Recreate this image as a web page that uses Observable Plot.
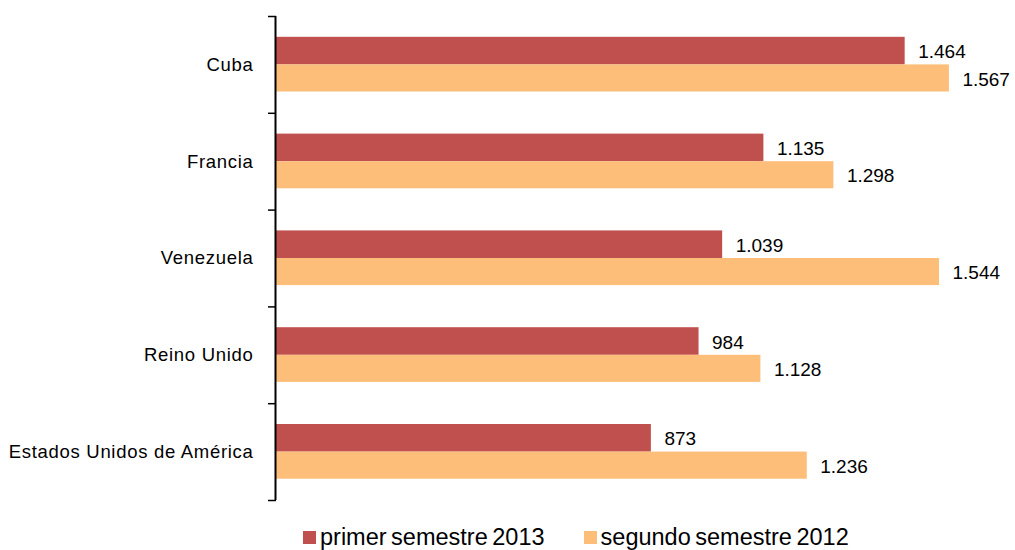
<!DOCTYPE html>
<html>
<head>
<meta charset="utf-8">
<script src="https://cdn.jsdelivr.net/npm/d3@7"></script>
<script src="https://cdn.jsdelivr.net/npm/@observablehq/plot@0.6"></script>
<style>
  body { margin: 0; background: #fff; font-family: "Liberation Sans", Arial, sans-serif; overflow: hidden; }
  #wrap { position: relative; width: 1015px; height: 550px; }
  #legend { position: absolute; top: 526px; left: 303px; font-size: 23.5px; line-height: 22px; color: #000; white-space: nowrap; display: flex; align-items: center; word-spacing: -2px; }
  #legend .item { display: flex; align-items: center; }
  #legend .sw { display: inline-block; width: 13px; height: 13px; margin-right: 4px; }
</style>
</head>
<body>
<div id="wrap"><div id="chart"></div><div id="legend"></div></div>
<script>
const categories = ["Cuba", "Francia", "Venezuela", "Reino Unido", "Estados Unidos de América"];
const seriesNames = ["primer semestre 2013", "segundo semestre 2012"];
const values2013 = [1464, 1135, 1039, 984, 873];
const values2012 = [1567, 1298, 1544, 1128, 1236];
const colors = ["#C0504D", "#FCBE78"];

const fmt = d3.formatLocale({decimal: ",", thousands: ".", grouping: [3], currency: ["", ""]}).format(",");

// slot within each category band (fractions of the band)
const slots = [[0.215, 0.5], [0.5, 0.78]];
const rows = [];
categories.forEach((c, i) => {
  [values2013, values2012].forEach((vals, s) => {
    rows.push({cat: c, series: seriesNames[s], value: vals[i], y1: i + slots[s][0], y2: i + slots[s][1], ym: i + (slots[s][0] + slots[s][1]) / 2});
  });
});
const catRows = categories.map((c, i) => ({cat: c, y: i + 0.5}));
const boundaries = d3.range(categories.length + 1);

const chart = Plot.plot({
  width: 1015,
  height: 515,
  marginLeft: 276,
  marginRight: 9,
  marginTop: 16,
  marginBottom: 15,
  style: {fontFamily: "'Liberation Sans', Arial, sans-serif", background: "#fff", color: "#000"},
  x: {domain: [0, 1700], axis: null},
  y: {domain: [0, categories.length], reverse: true, axis: null},
  color: {domain: seriesNames, range: colors},
  marks: [
    Plot.rectX(rows, {x1: 0, x2: "value", y1: "y1", y2: "y2", fill: "series"}),
    Plot.text(rows, {x: "value", y: "ym", text: d => fmt(d.value), textAnchor: "start", dx: 13, dy: 1, fontSize: 19, fill: "#000"}),
    Plot.text(catRows, {x: 0, y: "y", text: "cat", textAnchor: "end", dx: -23, dy: 0, fontSize: 18.5, fill: "#000"}),
    Plot.axisY({ticks: boundaries, tickSize: 8, tickFormat: () => "", stroke: "#000", strokeWidth: 1.5}),
    Plot.ruleX([0], {y1: 0, y2: categories.length, stroke: "#000", strokeWidth: 2, dx: -1})
  ]
});
document.getElementById("chart").appendChild(chart);
// letter spacing on category labels (second text group)
const groups = chart.querySelectorAll("g[aria-label='text']");
if (groups.length > 1) groups[1].setAttribute("letter-spacing", "0.7");

const legend = document.getElementById("legend");
seriesNames.forEach((name, i) => {
  const item = document.createElement("span");
  item.className = "item";
  if (i > 0) item.style.marginLeft = "39px";
  const sw = document.createElement("span");
  sw.className = "sw";
  sw.style.background = colors[i];
  const t = document.createElement("span");
  t.textContent = name;
  item.appendChild(sw);
  item.appendChild(t);
  legend.appendChild(item);
});
</script>
</body>
</html>
